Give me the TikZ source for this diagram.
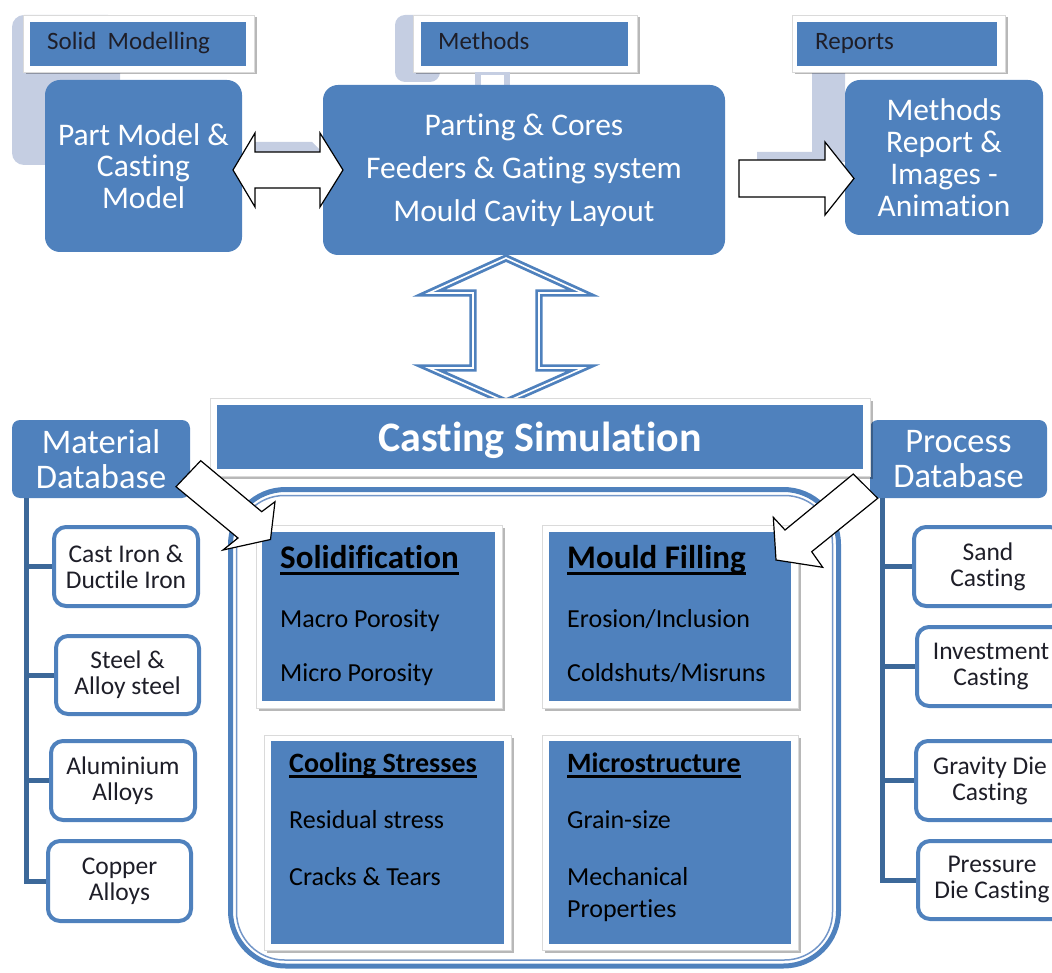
\documentclass[tikz,border=0pt]{standalone}
\usepackage{fontspec}
\setmainfont{Carlito}[Ligatures={NoCommon,NoContextual}, Contextuals=NoAlternate]
\usetikzlibrary{shadows}
\definecolor{ofblue}{HTML}{4F81BD}
\definecolor{pale}{HTML}{C5CEE2}
\definecolor{treeblue}{HTML}{3C6899}
\definecolor{thinblue}{HTML}{7396C8}
\definecolor{frameedge}{HTML}{DADADA}
\definecolor{txtdark}{HTML}{1E1E28}
% underlined bold heading with a heavy rule
\newcommand\headul[1]{\setbox0=\hbox{#1}\rlap{\raisebox{-0.2em}{\rule{\wd0}{0.08em}}}\box0}
\begin{document}
\begin{tikzpicture}[x=1pt,y=-1pt,
  fsz/.style={font=\fontsize{#1}{#1}\selectfont},
  topbox/.style={fill=ofblue, draw=none, rounded corners=15pt, text=white,
    align=center, inner sep=0pt},
  labelframe/.style={fill=white, draw=frameedge, line width=0.8pt, inner sep=0pt,
    drop shadow={shadow xshift=2.5pt, shadow yshift=-2.5pt, fill=black, opacity=0.28}},
  labelfill/.style={fill=ofblue, draw=none, inner sep=0pt},
  labeltext/.style={text=txtdark, inner sep=0pt, font=\fontsize{25}{25}\selectfont},
  dbbox/.style={fill=ofblue, draw=none, rounded corners=8pt, text=white, align=center,
    inner sep=0pt, font=\fontsize{34.5}{35}\selectfont},
  treebox/.style={draw=ofblue, line width=4pt, fill=white, rounded corners=12pt,
    align=center, text=txtdark, inner sep=0pt, font=\fontsize{25.5}{26}\selectfont},
  treeline/.style={draw=treeblue, line width=5pt},
  whitearrow/.style={fill=white, draw=black, line width=1.2pt, line join=miter},
  paneltext/.style={anchor=base west, inner sep=0pt, text=black},
]
\useasboundingbox (0,0) rectangle (1052,973);
\clip (0,0) rectangle (1052,973);

% ---------- pale backdrop shapes of the top row ----------
\fill[pale, rounded corners=12pt] (12,15) rectangle (120,165);
\fill[pale] (250,142) -- (312,142) -- (322,152) -- (250,152) -- cycle;
\fill[pale, rounded corners=10pt] (395,15) rectangle (440,82);
\fill[pale] (812,70) -- (845,70) -- (845,162) -- (757,162) -- (757,152) -- (812,152) -- cycle;

% ---------- top row: labels ----------
\node[labelframe, minimum width=231pt, minimum height=57pt] (smf) at (138.5,43.5) {};
\node[labelfill, minimum width=216pt, minimum height=44pt] (smb) at (138,44) {};
\node[labeltext, anchor=base west] (smt) at (47,50) {Solid~ Modelling};

\node[labelframe, minimum width=224pt, minimum height=57pt] (mef) at (525,43.5) {};
\fill[pale] (475,72) rectangle (510,86);
\fill[white] (481,75) rectangle (504,86);
\node[labelfill, minimum width=207pt, minimum height=44pt] (meb) at (524.5,44) {};
\node[labeltext, anchor=base west] (met) at (438,50) {Methods};

\node[labelframe, minimum width=213pt, minimum height=57pt] (ref) at (898.5,43.5) {};
\node[labelfill, minimum width=200pt, minimum height=44pt] (reb) at (897,44) {};
\node[labeltext, anchor=base west] (ret) at (815,50) {Reports};

% ---------- top row: main boxes ----------
\node[topbox, minimum width=197pt, minimum height=172pt, fsz=31.5] (pm) at (143.5,166)
  {Part Model \&\\Casting\\Model};
\node[topbox, minimum width=402pt, minimum height=170pt,
  font=\fontsize{31.5}{43}\selectfont] (par) at (524,170)
  {Parting \& Cores\\Feeders \& Gating system\\Mould Cavity Layout};
\node[topbox, minimum width=198pt, minimum height=155pt,
  font=\fontsize{31.5}{32}\selectfont] (rep) at (944,157.5)
  {Methods\\Report \&\\Images -\\Animation};

% ---------- block arrows of the top row ----------
\draw[whitearrow] (233,170) -- (255,133) -- (255,152) -- (320,152) -- (320,133)
  -- (343,170) -- (320,207) -- (320,188) -- (255,188) -- (255,207) -- cycle;
\draw[whitearrow] (739,160) -- (825,160) -- (825,142) -- (854,178.5) -- (825,215)
  -- (825,197) -- (739,197) -- cycle;

% ---------- vertical double arrow ----------
\draw[fill=white, draw=ofblue, line width=2.8pt, double=white, double distance=1.6pt,
  line join=miter]
  (506,258) -- (583,293) -- (539,293) -- (539,368) -- (583,368) -- (506,402)
  -- (429,368) -- (473,368) -- (473,293) -- (429,293) -- cycle;

% ---------- databases ----------
\node[dbbox, minimum width=178pt, minimum height=78pt] (mdb) at (101,459)
  {Material\\Database};
\node[dbbox, minimum width=177pt, minimum height=78pt] (pdb) at (958.5,459)
  {Process\\Database};

\node[treebox, minimum width=144pt, minimum height=79pt] (m1) at (126,566.5)
  {Cast Iron \&\\Ductile Iron};
\node[treebox, minimum width=143pt, minimum height=78pt] (m2) at (127.5,675)
  {Steel \&\\Alloy steel};
\node[treebox, minimum width=144pt, minimum height=79pt] (m3) at (123,780.5)
  {Aluminium\\Alloys};
\node[treebox, minimum width=143pt, minimum height=80pt] (m4) at (119.5,881)
  {Copper\\Alloys};

\node[treebox, minimum width=148pt, minimum height=79pt] (p1) at (988,566.5)
  {Sand\\Casting};
\node[treebox, minimum width=148pt, minimum height=79pt] (p2) at (991,666.5)
  {Investment\\Casting};
\node[treebox, minimum width=148pt, minimum height=79pt] (p3) at (990,780.5)
  {Gravity Die\\Casting};
\node[treebox, minimum width=148pt, minimum height=78pt] (p4) at (992,880)
  {Pressure\\Die Casting};

\coordinate (mtrunk) at ([xshift=15pt]mdb.south west);
\coordinate (ptrunk) at ([xshift=13pt]pdb.south west);
\draw[treeline] (mtrunk) |- (m4.west);
\draw[treeline] (mtrunk |- m1.west) -- (m1.west);
\draw[treeline] (mtrunk |- m2.west) -- (m2.west);
\draw[treeline] (mtrunk |- m3.west) -- (m3.west);
\draw[treeline] (ptrunk) |- (p4.west);
\draw[treeline] (ptrunk |- p1.west) -- (p1.west);
\draw[treeline] (ptrunk |- p2.west) -- (p2.west);
\draw[treeline] (ptrunk |- p3.west) -- (p3.west);

% ---------- simulation container ----------
\draw[draw=ofblue, line width=5pt, rounded corners=55pt] (230.5,489.5) rectangle (838.5,966);
\draw[draw=thinblue, line width=1.5pt, rounded corners=48pt] (236.5,495.5) rectangle (832.5,960);

% result panels
\node[labelframe, minimum width=246pt, minimum height=183pt] (s1f) at (379,616.5) {};
\node[labelfill, minimum width=233pt, minimum height=169pt] (s1) at (378.5,616.5) {};
\node[labelframe, minimum width=256pt, minimum height=183pt] (s2f) at (670,616.5) {};
\node[labelfill, minimum width=242pt, minimum height=169pt] (s2) at (670,616.5) {};
\node[labelframe, minimum width=247pt, minimum height=215pt] (s3f) at (387.5,842.5) {};
\node[labelfill, minimum width=233pt, minimum height=203pt] (s3) at (387.5,842.5) {};
\node[labelframe, minimum width=256pt, minimum height=215pt] (s4f) at (670,842.5) {};
\node[labelfill, minimum width=242pt, minimum height=203pt] (s4) at (670,842.5) {};

\node[paneltext, font=\bfseries\fontsize{33}{33}\selectfont] (s1h) at (280,568)
  {\headul{Solidification}};
\node[paneltext, fsz=26] (s1a) at (280,627) {Macro Porosity};
\node[paneltext, fsz=26] (s1b) at (280,681) {Micro Porosity};

\node[paneltext, font=\bfseries\fontsize{33}{33}\selectfont] (s2h) at (567,568)
  {\headul{Mould Filling}};
\node[paneltext, fsz=26] (s2a) at (567,627) {Erosion/Inclusion};
\node[paneltext, fsz=26] (s2b) at (567,681) {Coldshuts/Misruns};

\node[paneltext, font=\bfseries\fontsize{28}{28}\selectfont] (s3h) at (289,772)
  {\headul{Cooling Stresses}};
\node[paneltext, fsz=26] (s3a) at (289,828) {Residual stress};
\node[paneltext, fsz=26] (s3b) at (289,885) {Cracks \& Tears};

\node[paneltext, font=\bfseries\fontsize{28}{28}\selectfont] (s4h) at (567,772)
  {\headul{Microstructure}};
\node[paneltext, fsz=26] (s4a) at (567,828) {Grain-size};
\node[paneltext, fsz=26] (s4b) at (567,885) {Mechanical};
\node[paneltext, fsz=26] (s4c) at (567,917) {Properties};

% ---------- casting simulation bar ----------
\node[labelframe, minimum width=660pt, minimum height=78pt] (csf) at (540,437) {};
\node[labelfill, minimum width=646pt, minimum height=64pt] (csb) at (540,437) {};
\node[anchor=base, inner sep=0pt, text=white, font=\bfseries\fontsize{42}{42}\selectfont]
  (cst) at (540,451) {Casting Simulation};

% ---------- database feed arrows ----------
\draw[whitearrow] (200.7,460.7) -- (261.7,511.7) -- (275,501.7) -- (270.5,539.5)
  -- (223,550) -- (238,538) -- (176,486.7) -- cycle;
\draw[whitearrow] (853.3,474) -- (785,530) -- (773.3,517.3) -- (776,560)
  -- (822.7,567.3) -- (811.7,551.7) -- (877.7,498.3) -- cycle;
\end{tikzpicture}
\end{document}
